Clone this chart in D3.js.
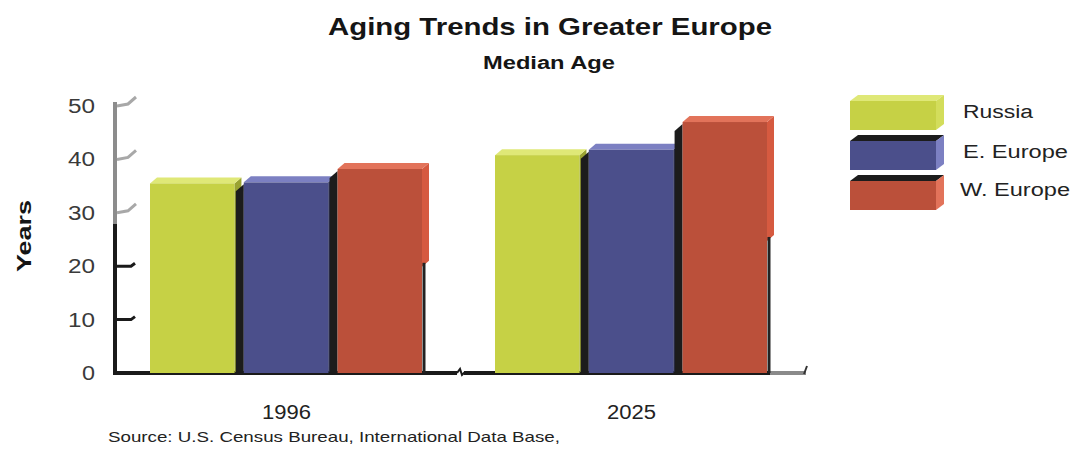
<!DOCTYPE html>
<html><head><meta charset="utf-8">
<script src="https://cdn.jsdelivr.net/npm/d3@7"></script>
<style>body{margin:0;background:#fff}svg{display:block;font-family:"Liberation Sans",Arial,sans-serif}</style>
</head><body>
<svg id="c" width="1071" height="450"></svg>
<script>
const years = ["1996", "2025"];
const seriesNames = ["Russia", "E. Europe", "W. Europe"];
const russia = [35.5, 40.8];
const eEurope = [35.7, 41.8];
const wEurope = [38.2, 47.0];
const yTicks = [0, 10, 20, 30, 40, 50];
const colors = ["#c6d145", "#4b4f8b", "#bb503a"];
const topColors = ["#dfe877", "#7c80c2", "#e2735a"];
const sideColors = ["#9aa332", "#33365f", "#d65a40"];

const values = [russia, eEurope, wEurope];
const svg = d3.select("#c");
const y = d3.scaleLinear().domain([0, 50]).range([373, 106]);
const x0 = d3.scalePoint().domain(years).range([113.5, 803.5]).padding(0.5);
const x1 = d3.scaleBand().domain(seriesNames).range([-136, 136]).paddingInner(0.1);
const dx = 7, dy = 6;
const FF = "\"Liberation Sans\",Arial,sans-serif";

// titles
svg.append("text").attr("x", 550).attr("y", 35).attr("text-anchor", "middle")
  .attr("font-size", 24).attr("font-weight", "bold").attr("fill", "#151515")
  .attr("textLength", 444).attr("lengthAdjust", "spacingAndGlyphs").text("Aging Trends in Greater Europe");
svg.append("text").attr("x", 549).attr("y", 69).attr("text-anchor", "middle")
  .attr("font-size", 18).attr("font-weight", "bold").attr("fill", "#151515")
  .attr("textLength", 132).attr("lengthAdjust", "spacingAndGlyphs").text("Median Age");
svg.append("text").attr("transform", "translate(31,236) rotate(-90)").attr("text-anchor", "middle")
  .attr("font-size", 20).attr("font-weight", "bold").attr("fill", "#151515")
  .attr("textLength", 72).attr("lengthAdjust", "spacingAndGlyphs").text("Years");

// y axis labels
const yAxis = d3.axisLeft(y).tickValues(yTicks).tickSize(0).tickPadding(0);
const ga = svg.append("g").attr("transform", "translate(95,0)").call(yAxis);
ga.select(".domain").remove();
ga.selectAll("text").attr("font-size", 20).attr("fill", "#3a3a3a").attr("font-family", FF)
  .attr("textLength", d => d === 0 ? 13 : 27).attr("lengthAdjust", "spacingAndGlyphs");

// axis wall
svg.append("line").attr("x1", 115).attr("x2", 115).attr("y1", y(0) + 2).attr("y2", y(28))
  .attr("stroke", "#1a1a1a").attr("stroke-width", 4);
svg.append("line").attr("x1", 115).attr("x2", 115).attr("y1", y(28)).attr("y2", y(50) - 4)
  .attr("stroke", "#8c8c8c").attr("stroke-width", 4);
yTicks.filter(t => t > 0).forEach(t => {
  const dark = t <= 20;
  svg.append("path")
    .attr("d", dark ? `M117,${y(t)}L131,${y(t)}L135,${y(t)-3}` : `M117,${y(t)}L128,${y(t)-2}L136,${y(t)-9}`)
    .attr("fill", "none").attr("stroke", dark ? "#1a1a1a" : "#a8a8a8").attr("stroke-width", 3);
});
// baseline
svg.append("line").attr("x1", 113).attr("x2", 457).attr("y1", y(0)).attr("y2", y(0))
  .attr("stroke", "#1a1a1a").attr("stroke-width", 4);
svg.append("path").attr("d", `M457,${y(0)}l3,-4l2,6l3,-3`).attr("fill", "none").attr("stroke", "#1a1a1a").attr("stroke-width", 2);
svg.append("line").attr("x1", 464).attr("x2", 770).attr("y1", y(0)).attr("y2", y(0))
  .attr("stroke", "#1a1a1a").attr("stroke-width", 4);
svg.append("line").attr("x1", 770).attr("x2", 806).attr("y1", y(0)).attr("y2", y(0))
  .attr("stroke", "#8a8a8a").attr("stroke-width", 4);
svg.append("path").attr("d", `M804,${y(0)+1}l3,-8`).attr("fill", "none").attr("stroke", "#333").attr("stroke-width", 2);

// bars
years.forEach((yr, gi) => {
  const gx = x0(yr);
  seriesNames.forEach((s, si) => {
    const v = values[si][gi];
    const xl = gx + x1(s), w = x1.bandwidth(), yt = y(v), yb = y(0);
    const g = svg.append("g");
    if (si > 0) {
      g.append("path").attr("d", `M${xl - 8},${yt + 9}L${xl},${yt + 2}L${xl},${yb}L${xl - 8},${yb}Z`).attr("fill", "#1c1c1c");
    }
    const cut = si === 2 ? yb - (yb - yt) * 0.55 : yb - dy;
    g.append("path").attr("d", `M${xl + w},${yt}L${xl + w + dx},${yt - dy}L${xl + w + dx},${cut}L${xl + w},${si === 2 ? cut + dy : yb}Z`)
      .attr("fill", sideColors[si]);
    if (si === 2) {
      g.append("line").attr("x1", xl + w + 2).attr("x2", xl + w + 2).attr("y1", cut + 2).attr("y2", yb)
        .attr("stroke", "#222").attr("stroke-width", 3);
    }
    g.append("path").attr("d", `M${xl},${yt}L${xl + dx},${yt - dy}L${xl + w + dx},${yt - dy}L${xl + w},${yt}Z`).attr("fill", topColors[si]);
    g.append("rect").attr("x", xl).attr("y", yt).attr("width", w).attr("height", yb - yt).attr("fill", colors[si]);
  });
});

// x labels
const xAxis = d3.axisBottom(x0).tickSize(0).tickPadding(0);
const gx = svg.append("g").attr("transform", `translate(0,${y(0) + 32})`).call(xAxis);
gx.select(".domain").remove();
gx.selectAll("text").attr("font-size", 20).attr("fill", "#222").attr("dy", "0.71em").attr("font-family", FF)
  .attr("textLength", 49).attr("lengthAdjust", "spacingAndGlyphs");

// legend
const legendLen = [70, 105, 110];
const lg = svg.append("g");
seriesNames.forEach((s, i) => {
  const ly = 101 + i * 40, lx = 850, lw = 86, lh = 29;
  lg.append("path").attr("d", `M${lx},${ly}L${lx + 8},${ly - 6}L${lx + lw + 8},${ly - 6}L${lx + lw},${ly}Z`)
    .attr("fill", i === 0 ? topColors[0] : "#1c1c1c");
  lg.append("path").attr("d", `M${lx + lw},${ly}L${lx + lw + 8},${ly - 6}L${lx + lw + 8},${ly + lh - 6}L${lx + lw},${ly + lh}Z`)
    .attr("fill", i === 0 ? "#d3dd5b" : topColors[i]);
  lg.append("rect").attr("x", lx).attr("y", ly).attr("width", lw).attr("height", lh).attr("fill", colors[i]);
  lg.append("text").attr("x", i === 2 ? 960 : 963).attr("y", [118, 158, 196][i]).attr("font-size", 18).attr("fill", "#222")
    .attr("textLength", legendLen[i]).attr("lengthAdjust", "spacingAndGlyphs").text(s);
});

// source
svg.append("text").attr("x", 108).attr("y", 442).attr("font-size", 15).attr("fill", "#222")
  .attr("textLength", 452).attr("lengthAdjust", "spacingAndGlyphs")
  .text("Source: U.S. Census Bureau, International Data Base,");
</script>
</body></html>
